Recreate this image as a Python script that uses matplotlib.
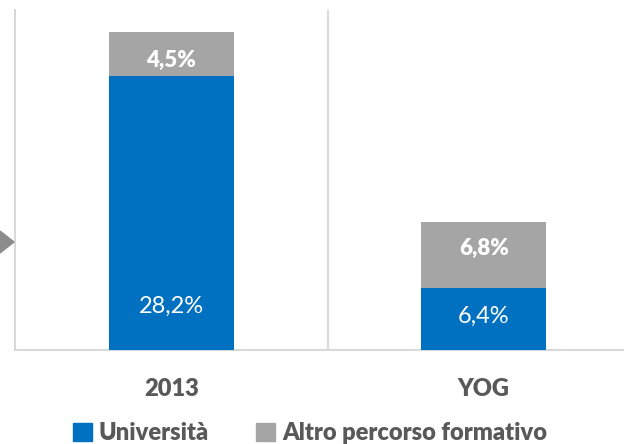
import matplotlib
matplotlib.use("Agg")
import matplotlib.pyplot as plt
from matplotlib.patches import Polygon, Patch
from matplotlib import font_manager as fm

categories = ["2013", "YOG"]
universita = [28.2, 6.4]
altro = [4.5, 6.8]
univ_labels = ["28,2%", "6,4%"]
altro_labels = ["4,5%", "6,8%"]
series_names = ["Università", "Altro percorso formativo"]

BLUE = "#0070C0"
GRAY = "#A5A5A5"
LINE = "#D9D9D9"
TXT = "#595959"
FONT = "Lato"
BW = "heavy"

fig = plt.figure(figsize=(6.24, 4.44), dpi=100)
ax = fig.add_axes([15/624, 94/444, 625/624, 340/444])

x = list(range(len(categories)))
ax.bar(x, universita, width=0.4, color=BLUE, zorder=3)
ax.bar(x, altro, width=0.4, bottom=universita, color=GRAY, zorder=3)

ax.set_xlim(-0.5, 1.5)
ax.set_ylim(0, 35)
ax.axvline(0.5, color=LINE, lw=1.5, zorder=1)

for s in ["top", "right"]:
    ax.spines[s].set_visible(False)
for s in ["left", "bottom"]:
    ax.spines[s].set_color(LINE)
    ax.spines[s].set_linewidth(1.5)
ax.set_yticks([])
ax.set_xticks(x)
ax.set_xticklabels(categories, fontfamily=FONT, fontsize=17, fontweight=BW, color=TXT)
ax.tick_params(axis="x", length=0, pad=20)

univ_pos = [4.5, 3.5]
altro_pos = [29.8, 10.5]
for i in x:
    ax.text(i, univ_pos[i], univ_labels[i], ha="center", va="center", color="white",
            fontfamily=FONT, fontsize=17, zorder=4)
    ax.text(i, altro_pos[i], altro_labels[i], ha="center", va="center", color="white",
            fontfamily=FONT, fontsize=16, fontweight=BW, zorder=4)

tri = Polygon([[0, (444-231)/444], [14/624, (444-242)/444], [0, (444-253)/444]],
              closed=True, transform=fig.transFigure, color="#8C8C8C", zorder=5)
fig.patches.append(tri)

handles = [Patch(color=BLUE), Patch(color=GRAY)]
leg = fig.legend(handles, series_names, loc="center", bbox_to_anchor=(310/624, (444-433)/444),
                 ncol=2, frameon=False, handlelength=0.8, handleheight=0.8,
                 columnspacing=2.0, handletextpad=0.3,
                 prop={"family": FONT, "size": 17, "weight": BW})
for t in leg.get_texts():
    t.set_color(TXT)

fig.savefig("out.png", dpi=100)
